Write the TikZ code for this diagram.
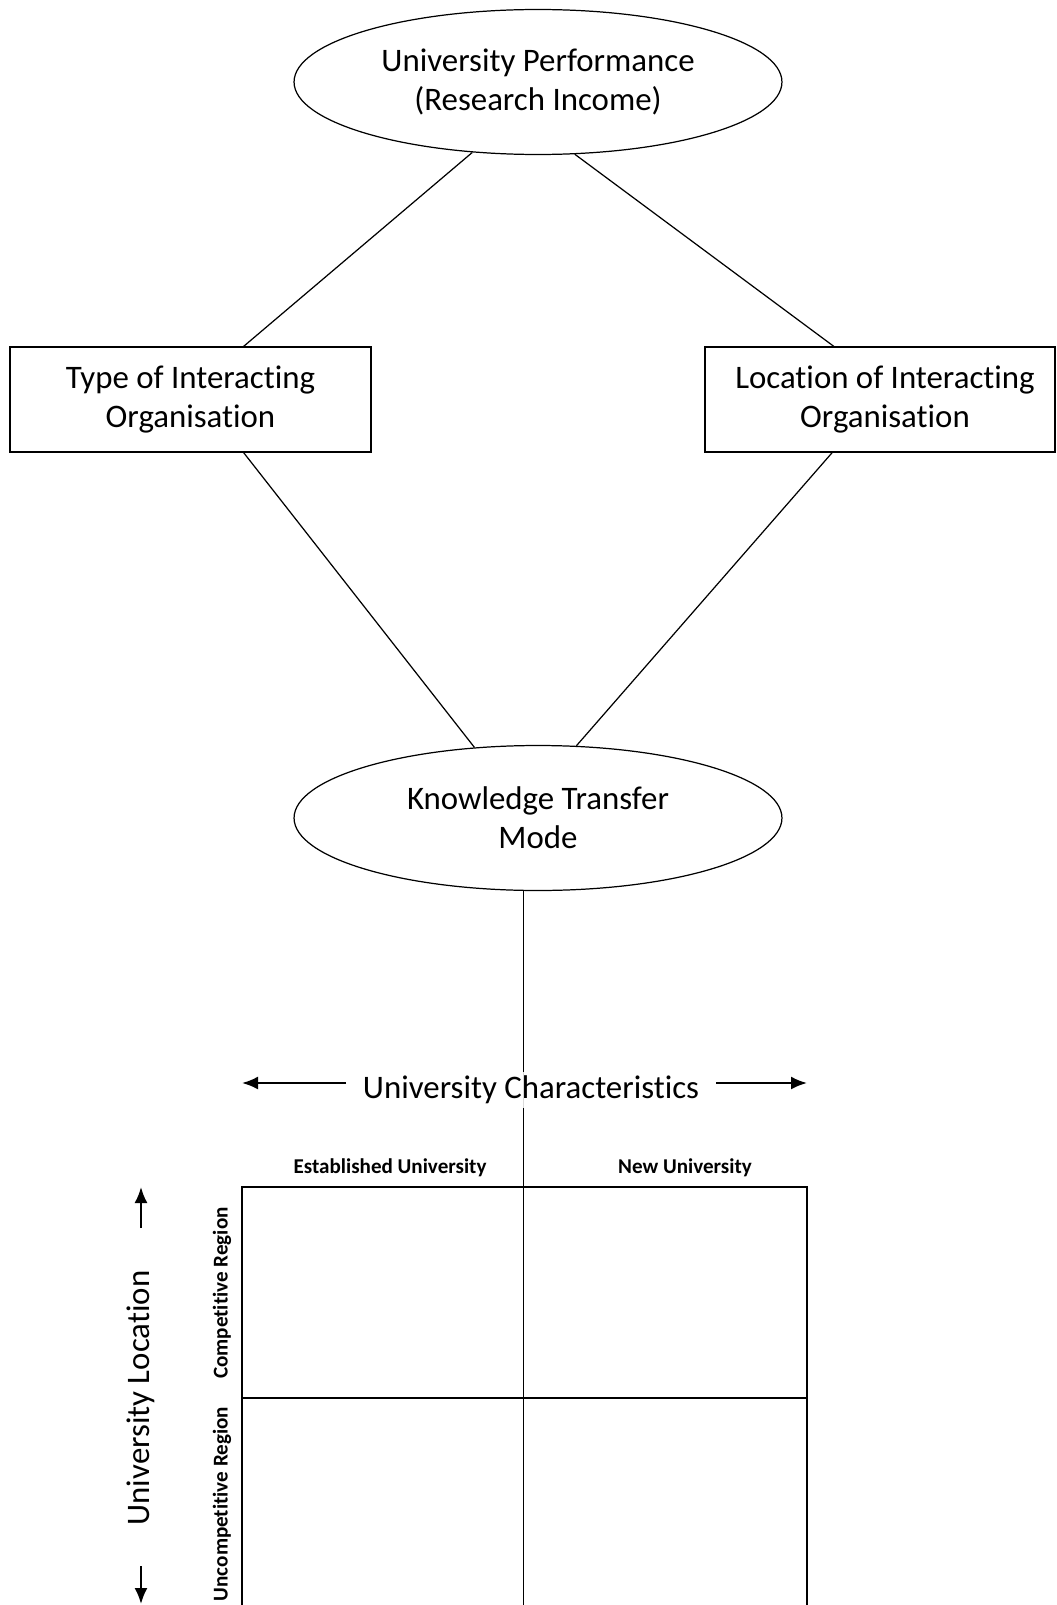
\documentclass[tikz,border=0pt]{standalone}
\usepackage{fontspec}
\setmainfont{Carlito}[Ligatures=NoCommon]
\usetikzlibrary{arrows,arrows.meta,positioning,shapes.geometric}
\tikzset{every picture/.style={line width=0.7pt}}
\tikzstyle{oval}=[ellipse,draw,minimum width=9.76cm,minimum height=2.9cm,align=center,inner sep=0pt,font=\fontsize{18.7}{22}\selectfont]
\tikzstyle{factor}=[rectangle,draw,minimum height=2.1cm,align=center,inner sep=0pt,font=\fontsize{18.7}{22}\selectfont]
\tikzstyle{head}=[font=\bfseries\fontsize{12}{14}\selectfont,inner sep=1pt]
\tikzstyle{axis}=[font=\fontsize{18.7}{22}\selectfont,inner sep=2pt]

\begin{document}
\begin{tikzpicture}[x=0.02cm,y=-0.02cm]
\useasboundingbox (0,0) rectangle (1056,1605);
\node[oval] (perf) at (538,82) {University Performance\\(Research Income)};
\node[factor,minimum width=7.22cm] (typeorg) at (190.5,399.5) {Type of Interacting\\Organisation};
\node[factor,minimum width=7.0cm] (locorg) at (880,399.5) {\hspace*{0.2cm}Location of Interacting\\\hspace*{0.2cm}Organisation};
\node[oval] (ktmode) at (538,818) {Knowledge Transfer\\Mode};
\path
(perf.227.6) edge (typeorg.45)
(perf.297.3) edge (locorg.131.2)
(typeorg.-45) edge (ktmode.132.4)
(locorg.228.8) edge (ktmode.62.7);
% matrix of university types
\coordinate (gtl) at (242,1187);
\coordinate (gtr) at (807,1187);
\coordinate (gml) at (242,1398);
\coordinate (gmr) at (807,1398);
\coordinate (gbl) at (242,1605);
\coordinate (gbr) at (807,1605);
\coordinate (gbm) at (525,1605);
\draw (ktmode.259.8) -- (ktmode.259.8 |- gbm);
\node[axis,fill=white,fill opacity=0.85,text opacity=1] (charlbl) at (531,1090) {University Characteristics};
\draw (gbl) -- (gtl) -- (gtr) -- (gbr);
\draw (gml) -- (gmr);
\node[head] (estlbl) at (390,1168) {Established University};
\node[head] (newlbl) at (685,1168) {New University};
\node[head,rotate=90] (complbl) at (222,1293) {Competitive Region};
\node[head,rotate=90] (uncomplbl) at (222,1504) {Uncompetitive Region};
\node[axis,rotate=90] (loclbl) at (141,1398) {University Location};
\coordinate (cl1) at (346,1083);
\coordinate (cl2) at (242,1083);
\coordinate (cr1) at (716,1083);
\coordinate (cr2) at (807,1083);
\coordinate (lu1) at (141,1228);
\coordinate (lu2) at (141,1187);
\coordinate (ld1) at (141,1566);
\coordinate (ld2) at (141,1604);
\path[-{Latex[length=3.2mm,width=2.6mm]},line width=1.2pt]
(cl1) edge (cl2)
(cr1) edge (cr2)
(lu1) edge (lu2)
(ld1) edge (ld2);
\end{tikzpicture}
\end{document}
